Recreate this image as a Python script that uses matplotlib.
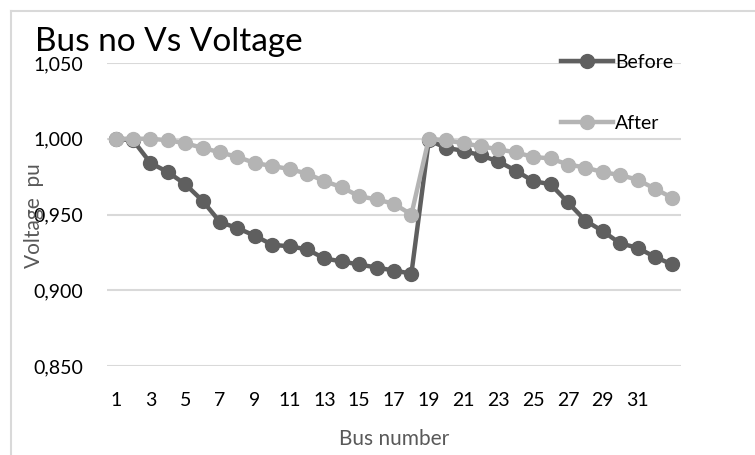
import matplotlib.pyplot as plt
from matplotlib.lines import Line2D

bus = list(range(1, 34))
before = [1.000, 0.999, 0.984, 0.978, 0.970, 0.959, 0.945, 0.941, 0.936, 0.930,
          0.929, 0.927, 0.921, 0.919, 0.917, 0.915, 0.913, 0.911, 0.999, 0.994,
          0.992, 0.989, 0.985, 0.979, 0.972, 0.970, 0.958, 0.946, 0.939, 0.931,
          0.928, 0.922, 0.917]
after = [1.000, 1.000, 1.000, 0.999, 0.997, 0.994, 0.991, 0.988, 0.984, 0.982,
         0.980, 0.977, 0.972, 0.968, 0.962, 0.960, 0.957, 0.950, 1.000, 0.999,
         0.997, 0.995, 0.993, 0.991, 0.988, 0.987, 0.983, 0.981, 0.978, 0.976,
         0.973, 0.967, 0.961]
xticks = list(range(1, 33, 2))
yticks = [0.85, 0.90, 0.95, 1.00, 1.05]

plt.rcParams['font.family'] = ['Lato', 'DejaVu Sans']

fig = plt.figure(figsize=(7.55, 4.55), dpi=100)
ax = fig.add_axes([107/755, 1-366/455, (681-107)/755, (366-63)/455])

ax.plot(bus, before, color="#5f5f5f", lw=3.2, marker="o", ms=10, label="Before", zorder=3)
ax.plot(bus, after, color="#b4b4b4", lw=3.2, marker="o", ms=10, label="After", zorder=4)

ax.set_xlim(0.5, 33.5)
ax.set_ylim(0.85, 1.05)
ax.set_xticks(xticks)
ax.set_xticklabels([str(t) for t in xticks])
ax.set_yticks(yticks)
ax.set_yticklabels([("%.3f" % t).replace(".", ",") for t in yticks])
ax.tick_params(length=0, labelsize=14, colors="#000000")
ax.tick_params(axis="x", pad=19)
ax.tick_params(axis="y", pad=17)
ax.grid(axis="y", color="#d9d9d9", lw=1.5)
ax.set_axisbelow(True)
for s in ax.spines.values():
    s.set_visible(False)

ax.set_xlabel("Bus number", fontsize=15, color="#595959", labelpad=14)
fig.text(34/755, 1-216/455, "Voltage  pu", rotation=90, fontsize=15, color="#595959",
         ha="center", va="center")
fig.text(35/755, 1-42/455, "Bus no Vs Voltage", fontsize=24, ha="left", va="center")

leg = fig.legend(loc="upper left", bbox_to_anchor=(543/755, 1-36/455), frameon=False,
                 fontsize=14, handlelength=2.7, handletextpad=0.1, labelspacing=2.3)

# chart area border (left and top visible)
fig.add_artist(Line2D([11/755, 11/755], [0, 1-11/455], color="#d9d9d9", lw=1.5))
fig.add_artist(Line2D([11/755, 1], [1-11/455, 1-11/455], color="#d9d9d9", lw=1.5))

fig.savefig("out.png", dpi=100)
